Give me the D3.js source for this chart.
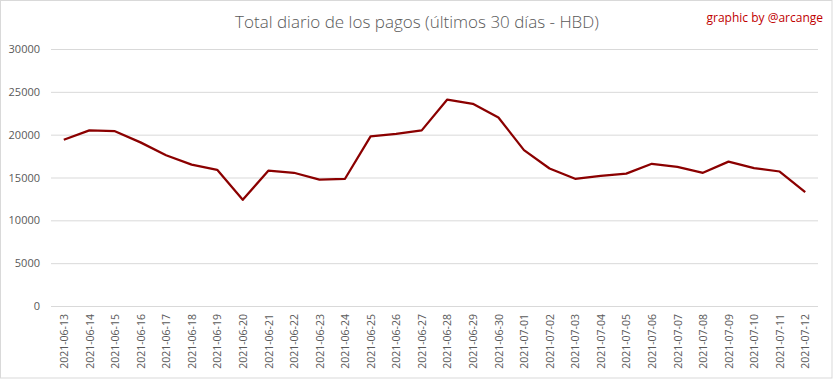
<!DOCTYPE html>
<html><head><meta charset="utf-8">
<script src="https://cdn.jsdelivr.net/npm/d3@7"></script>
<style>body{margin:0;background:#fff}svg{display:block}</style>
</head><body>
<svg id="c" width="833" height="379"></svg>
<script>
const dates = ["2021-06-13","2021-06-14","2021-06-15","2021-06-16","2021-06-17","2021-06-18","2021-06-19","2021-06-20","2021-06-21","2021-06-22","2021-06-23","2021-06-24","2021-06-25","2021-06-26","2021-06-27","2021-06-28","2021-06-29","2021-06-30","2021-07-01","2021-07-02","2021-07-03","2021-07-04","2021-07-05","2021-07-06","2021-07-07","2021-07-08","2021-07-09","2021-07-10","2021-07-11","2021-07-12"];
const values = [19400,20500,20400,19100,17600,16500,15900,12400,15800,15550,14750,14850,19800,20100,20500,24100,23600,22000,18200,16050,14850,15200,15450,16600,16250,15550,16850,16100,15700,13300];
const yTicks = [0,5000,10000,15000,20000,25000,30000];
const title = "Total diario de los pagos (últimos 30 días - HBD)";
const credit = "graphic by @arcange";

(function(){
const svg = d3.select("#c");
const W = 833, H = 379;
const pl = 51, pr = 818, pt = 49, pb = 306;
svg.append("rect").attr("x",0.5).attr("y",0.5).attr("width",W-1.5).attr("height",H-1.5)
  .attr("fill","#fff").attr("stroke","#d9d9d9");

const x = d3.scalePoint().domain(dates).range([pl,pr]).padding(0.5);
const y = d3.scaleLinear().domain([0,30000]).range([pb,pt]);

const yAxis = svg.append("g").attr("transform",`translate(${pl},0)`)
  .call(d3.axisLeft(y).tickValues(yTicks).tickSize(-(pr-pl)).tickPadding(11).tickFormat(d3.format("d")));
yAxis.select(".domain").remove();
yAxis.selectAll("line").attr("stroke","#d9d9d9");
yAxis.selectAll("text").attr("fill","#595959").style("font-family","Open Sans, sans-serif").style("font-size","11px");

const xAxis = svg.append("g").attr("transform",`translate(0,${pb})`)
  .call(d3.axisBottom(x).tickSize(0).tickPadding(8));
xAxis.select(".domain").remove();
xAxis.selectAll("text").attr("fill","#595959").style("font-family","Open Sans, sans-serif").style("font-size","10.5px")
  .attr("transform","rotate(-90)").attr("text-anchor","end").attr("x",-8).attr("y",0).attr("dy","0.35em");

const line = d3.line().x((d,i)=>x(dates[i])).y(d=>y(d));
svg.append("path").datum(values).attr("d",line).attr("fill","none")
  .attr("stroke","#8b0000").attr("stroke-width",2.25).attr("stroke-linejoin","round");

svg.append("text").attr("x",417).attr("y",28).attr("text-anchor","middle")
  .attr("fill","#595959").style("font-family","Open Sans, sans-serif").style("font-weight","300").style("font-size","17px").text(title);
svg.append("text").attr("x",823).attr("y",22).attr("text-anchor","end")
  .attr("fill","#c00000").style("font-family","Open Sans, sans-serif").style("font-size","12px").text(credit);
})();
</script>
</body></html>
